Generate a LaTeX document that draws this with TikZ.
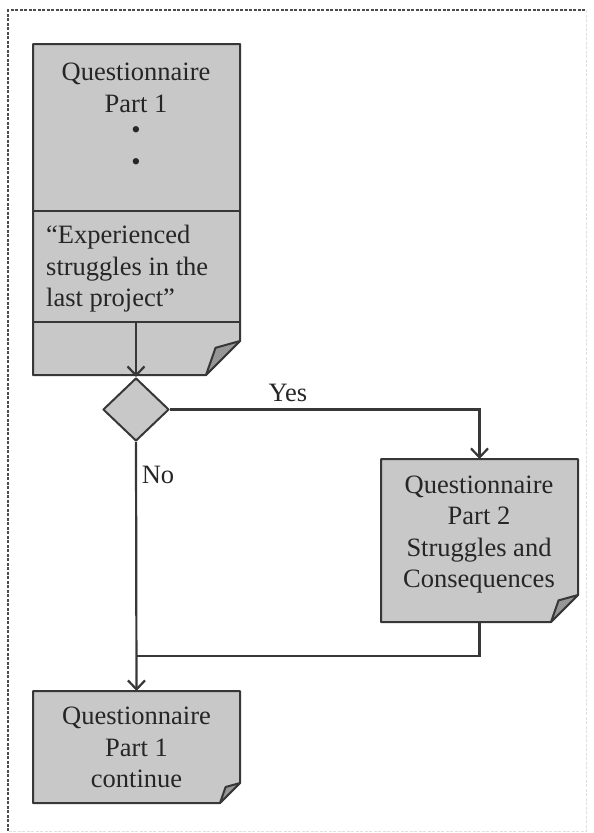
\documentclass[tikz,border=0pt]{standalone}
\usepackage{fontspec}
\setmainfont{Liberation Serif}
\usetikzlibrary{shapes.geometric,arrows.meta}
\definecolor{boxgray}{RGB}{200,200,200}
\definecolor{foldgray}{RGB}{150,150,150}
\definecolor{linegray}{RGB}{55,55,55}
\newcommand{\dogear}[2]{%
  \filldraw[boxline] (#1.north west) -- (#1.north east) -- ([yshift=#2]#1.south east)
    -- ([xshift=-#2]#1.south east) -- (#1.south west) -- cycle;
  \filldraw[boxline,fill=foldgray] ([yshift=#2]#1.south east) -- ([xshift=-#2]#1.south east)
    -- ([xshift=-0.72*#2,yshift=0.8*#2]#1.south east) -- cycle;}
\begin{document}
\begin{tikzpicture}[x=1pt,y=-1pt,
  font=\fontsize{26.5}{31.5}\selectfont,
  boxline/.style={draw=linegray,fill=boxgray,line width=2pt,line join=round},
  holder/.style={draw=none,inner sep=0pt,outer sep=0pt},
  txt/.style={inner sep=0pt,align=center,text=black!85},
  conn/.style={draw=linegray,line width=2.2pt},
  arr/.style={conn,-{Straight Barb[length=9pt,width=17pt,line width=2.2pt]}}]
\useasboundingbox (0,0) rectangle (594,833);
% frame
\draw[dashed,dash pattern=on 3pt off 1.5pt,line width=1.5pt,black!70] (8,831) -- (8,10) -- (586,10);
\draw[dashed,dash pattern=on 3pt off 1.5pt,line width=1pt,black!12] (586,10) -- (586,831) -- (8,831);
% box 1
\node[holder,minimum width=207pt,minimum height=331pt] (q1) at (136.5,209.5) {};
\dogear{q1}{34pt}
\coordinate (d1w) at (33,211); \coordinate (d1e) at (240,211);
\coordinate (d2w) at (33,322); \coordinate (d2e) at (240,322);
\draw[conn,line width=2pt] (d1w) -- (d1e);
\draw[conn,line width=2pt] (d2w) -- (d2e);
\node[txt] (t1) at (136,88) {Questionnaire\\Part 1};
\node[txt] (b1) at (136,133) {•};
\node[txt] (b2) at (136,165) {•};
\node[txt,align=left,anchor=west] (t2) at (46,269) {“Experienced\\struggles in the\\last project”};
% decision
\node[diamond,boxline,minimum width=66pt,minimum height=63pt,inner sep=0pt] (dec) at (136,409.5) {};
\coordinate (q1out) at (136,322);
\draw[arr] (q1out) -- (dec.north);
% box 2
\node[holder,minimum width=197pt,minimum height=163pt] (q2) at (479.5,540.5) {};
\dogear{q2}{27pt}
\node[txt] (t3) at (479,534.5) {Questionnaire\\Part 2\\Struggles and\\Consequences};
% box 3
\node[holder,minimum width=207pt,minimum height=112pt] (q3) at (136.5,747) {};
\dogear{q3}{20pt}
\node[txt] (t4) at (136.5,747.5) {Questionnaire\\Part 1\\continue};
% connectors
\draw[arr] (dec.east) -| (q2.north);
\node[txt] (yes) at (288,393) {Yes};
\draw[arr] (dec.south) -- (q3.north);
\node[txt] (no) at (158,475) {No};
\coordinate (merge) at (136,656);
\draw[conn] (q2.south) |- (merge);
\end{tikzpicture}
\end{document}
